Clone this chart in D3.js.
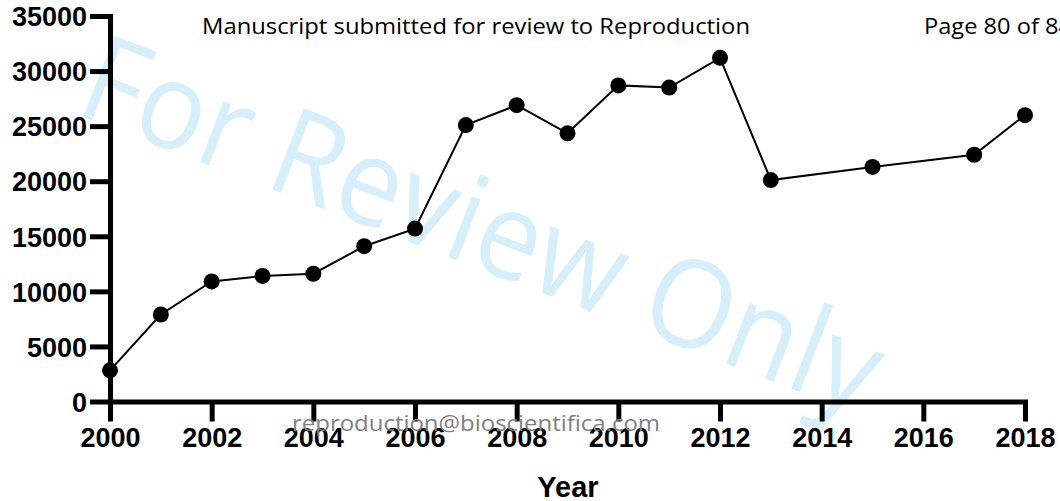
<!DOCTYPE html>
<html lang="en">
<head>
	<meta charset="utf-8">
	<script src="https://d3js.org/d3.v7.min.js"></script>
	<title>Year chart</title>
	<style>
		body { margin: 0; background: #fff; }
		svg { display: block; }
		.axis path, .axis line { stroke: #000; stroke-width: 5; }
		.axis text { font-family: "Liberation Sans", Arial, sans-serif; font-weight: bold; font-size: 27px; fill: #000; }
	</style>
</head>
<body>
	<svg width="1060" height="501"></svg>
	<script>
	// data
	var years = [2000, 2001, 2002, 2003, 2004, 2005, 2006, 2007, 2008, 2009, 2010, 2011, 2012, 2013, 2015, 2017, 2018];
	var counts = [2830, 7900, 10900, 11400, 11600, 14100, 15700, 25100, 26900, 24350, 28700, 28500, 31200, 20100, 21300, 22400, 26000];
	var xTicks = [2000, 2002, 2004, 2006, 2008, 2010, 2012, 2014, 2016, 2018];
	var yTicks = [0, 5000, 10000, 15000, 20000, 25000, 30000, 35000];

	var svg = d3.select("svg");

	var x = d3.scaleLinear().domain([2000, 2018]).range([110, 1025]);
	var y = d3.scaleLinear().domain([0, 35000]).range([401.5, 16]);

	// watermark, under everything
	svg.append("text")
		.attr("transform", "translate(73,113) rotate(21)")
		.attr("textLength", 845)
		.attr("lengthAdjust", "spacingAndGlyphs")
		.style("font-family", "'Open Sans', 'Noto Sans', sans-serif")
		.style("font-size", "122px")
		.style("fill", "#d6effb")
		.text("For Review Only");

	// header
	svg.append("text")
		.attr("x", 202).attr("y", 34)
		.attr("textLength", 548)
		.attr("lengthAdjust", "spacingAndGlyphs")
		.style("font-family", "'Open Sans', 'Noto Sans', sans-serif")
		.style("font-size", "22px")
		.style("fill", "#000")
		.text("Manuscript submitted for review to Reproduction");
	svg.append("text")
		.attr("x", 924).attr("y", 34)
		.attr("textLength", 148)
		.attr("lengthAdjust", "spacingAndGlyphs")
		.style("font-family", "'Open Sans', 'Noto Sans', sans-serif")
		.style("font-size", "22px")
		.style("fill", "#000")
		.text("Page 80 of 84");

	// line + points
	var pts = years.map(function(d, i){ return [d, counts[i]]; });
	var line = d3.line()
		.x(function(d){ return x(d[0]); })
		.y(function(d){ return y(d[1]); });

	svg.append("path")
		.datum(pts)
		.attr("d", line)
		.attr("fill", "none")
		.attr("stroke", "#000")
		.attr("stroke-width", 2);

	// axes
	var gy = svg.append("g")
		.attr("class", "axis")
		.attr("transform", "translate(" + x(2000) + ",0)")
		.call(d3.axisLeft(y).tickValues(yTicks).tickFormat(d3.format("d")).tickSize(20).tickSizeOuter(0).tickPadding(3));
	var gx = svg.append("g")
		.attr("class", "axis")
		.attr("transform", "translate(0," + y(0) + ")")
		.call(d3.axisBottom(x).tickValues(xTicks).tickFormat(d3.format("d")).tickSize(20).tickSizeOuter(0).tickPadding(6));
	gy.select(".domain").attr("stroke-linecap", "square");
	gx.select(".domain").attr("stroke-linecap", "square");
	gy.selectAll("text").attr("dy", "0.36em");

	svg.append("g")
		.selectAll("circle")
		.data(pts)
		.enter()
		.append("circle")
		.attr("cx", function(d){ return x(d[0]); })
		.attr("cy", function(d){ return y(d[1]); })
		.attr("r", 8)
		.attr("fill", "#000");

	// axis title
	svg.append("text")
		.attr("x", 568).attr("y", 497)
		.attr("text-anchor", "middle")
		.style("font-family", "'Liberation Sans', Arial, sans-serif")
		.style("font-weight", "bold")
		.style("font-size", "29px")
		.text("Year");

	// footer email, drawn on top
	svg.append("text")
		.attr("x", 292).attr("y", 431)
		.attr("textLength", 368)
		.attr("lengthAdjust", "spacingAndGlyphs")
		.style("font-family", "'Open Sans', 'Noto Sans', sans-serif")
		.style("font-size", "22px")
		.style("fill", "#808080")
		.text("reproduction@bioscientifica.com");
	</script>
</body>
</html>
